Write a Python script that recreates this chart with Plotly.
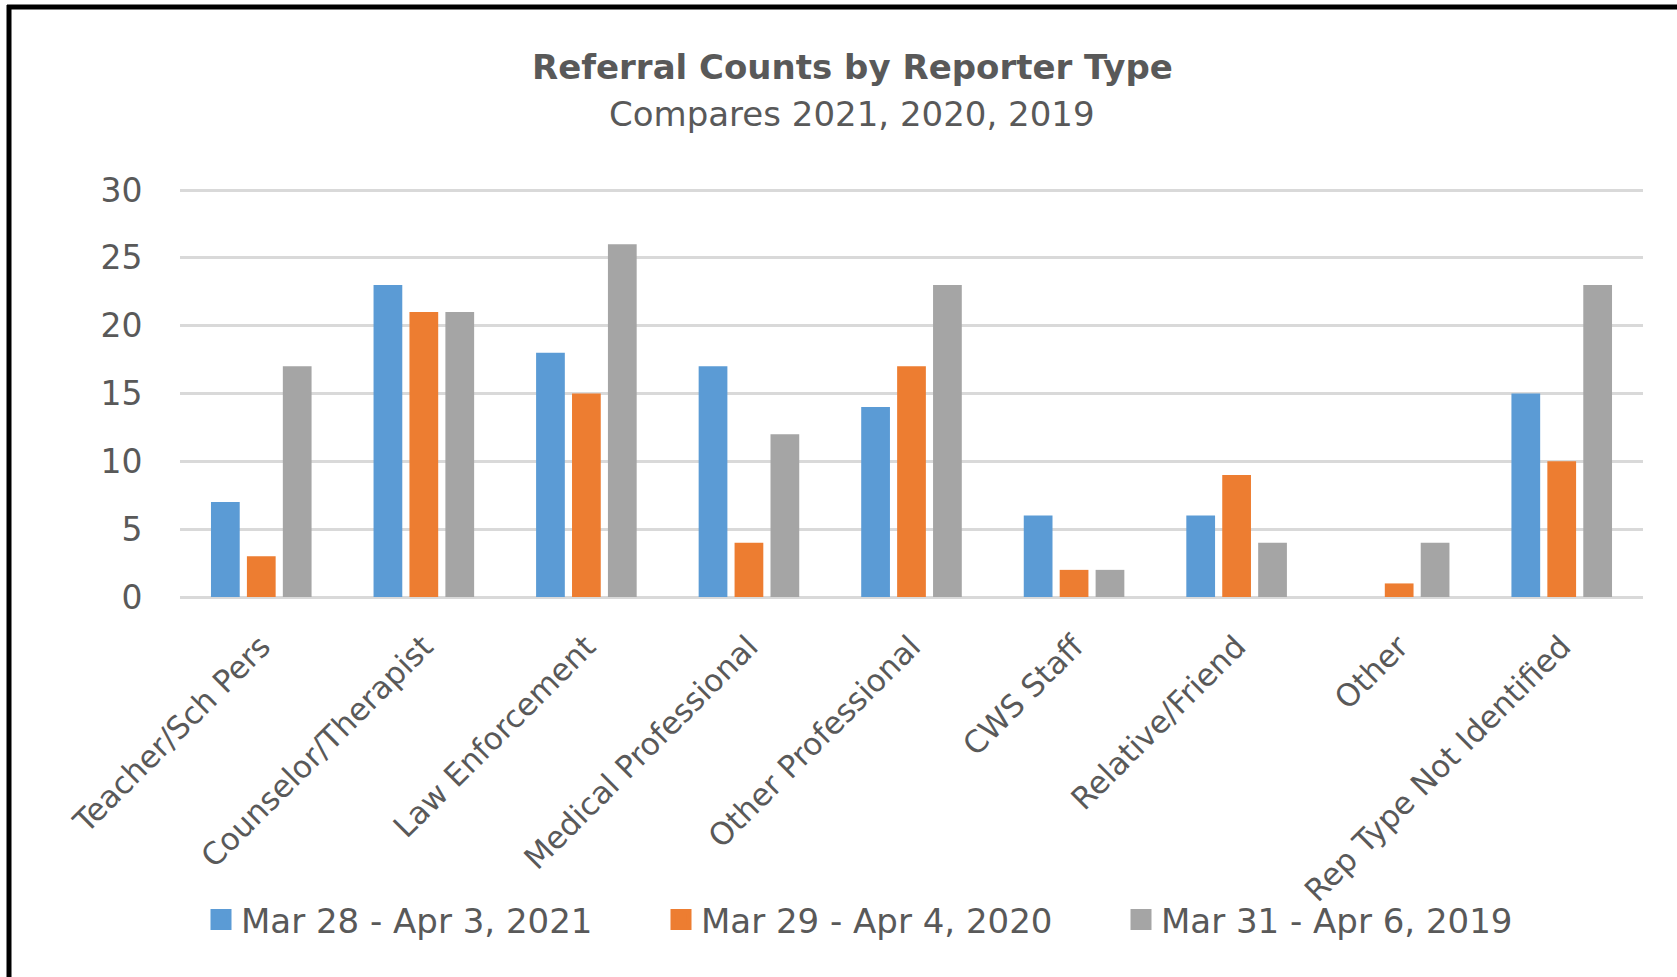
import plotly.graph_objects as go

categories = ["Teacher/Sch Pers", "Counselor/Therapist", "Law Enforcement",
              "Medical Professional", "Other Professional", "CWS Staff",
              "Relative/Friend", "Other", "Rep Type Not Identified"]
series_names = ["Mar 28 - Apr 3, 2021", "Mar 29 - Apr 4, 2020", "Mar 31 - Apr 6, 2019"]
values_2021 = [7, 23, 18, 17, 14, 6, 6, 0, 15]
values_2020 = [3, 21, 15, 4, 17, 2, 9, 1, 10]
values_2019 = [17, 21, 26, 12, 23, 2, 4, 4, 23]
colors = ["#5B9BD5", "#ED7D31", "#A5A5A5"]
y_ticks = [0, 5, 10, 15, 20, 25, 30]

W, H = 1677, 977
Y0_PX, Y30_PX = 597, 190          # pixel rows of the 0 and 30 gridlines
L, R, T = 180, 34, 185
B = H - Y0_PX
pw, ph = W - L - R, H - T - B
y_top = 30 * (Y0_PX - T) / (Y0_PX - Y30_PX)   # small headroom so the 30 gridline is drawn

TEXT = "#595959"
FONT = "DejaVu Sans"

fig = go.Figure()
for name, vals, col in zip(series_names, [values_2021, values_2020, values_2019], colors):
    fig.add_trace(go.Bar(x=categories, y=vals, name=name, showlegend=False,
                         marker=dict(color=col, line=dict(width=0))))
# legend entries with larger square swatches
for name, col in zip(series_names, colors):
    fig.add_trace(go.Scatter(x=[None], y=[None], mode="markers", name=name,
                             marker=dict(symbol="square", size=16, color=col,
                                         line=dict(color=col, width=5))))


def px_x(x):
    return (x - L) / pw


def px_y(y):
    return (H - B - y) / ph


fig.update_layout(
    width=W, height=H,
    margin=dict(l=L, r=R, t=T, b=B, autoexpand=False),
    paper_bgcolor="white", plot_bgcolor="white",
    barmode="group", bargap=0.337, bargroupgap=0.2,
    font=dict(family=FONT, color=TEXT),
    showlegend=True,
    legend=dict(orientation="h", x=px_x(201), y=px_y(920), xanchor="left", yanchor="middle",
                font=dict(size=34, color=TEXT, family=FONT),
                entrywidth=415, entrywidthmode="pixels",
                itemsizing="trace", bgcolor="rgba(0,0,0,0)"),
    xaxis=dict(tickangle=-45, tickfont=dict(size=31, color=TEXT, family=FONT),
               showgrid=False, showline=False, zeroline=False,
               ticks="outside", ticklen=18, tickcolor="rgba(0,0,0,0)"),
    yaxis=dict(range=[0, y_top], tickvals=y_ticks, tickfont=dict(size=33, color=TEXT, family=FONT),
               showgrid=True, gridcolor="#D9D9D9", gridwidth=3,
               zeroline=True, zerolinecolor="#D9D9D9", zerolinewidth=3,
               showline=False, ticks="outside", ticklen=30, tickcolor="rgba(0,0,0,0)"),
    annotations=[
        dict(text="<b>Referral Counts by Reporter Type</b>", x=px_x(852), y=px_y(67),
             xref="paper", yref="paper", showarrow=False, xanchor="center", yanchor="middle",
             font=dict(size=34, color=TEXT, family=FONT)),
        dict(text="Compares 2021, 2020, 2019", x=px_x(852), y=px_y(114),
             xref="paper", yref="paper", showarrow=False, xanchor="center", yanchor="middle",
             font=dict(size=34, color=TEXT, family=FONT)),
    ],
    shapes=[
        dict(type="line", xref="paper", yref="paper", x0=px_x(7), x1=px_x(W), y0=px_y(7), y1=px_y(7),
             line=dict(color="black", width=5)),
        dict(type="line", xref="paper", yref="paper", x0=px_x(9), x1=px_x(9), y0=px_y(5), y1=px_y(H),
             line=dict(color="black", width=5)),
    ],
)

fig.write_html("out.html", config={"displayModeBar": False},
               post_script="document.body.style.margin='0px';document.body.style.overflow='hidden';")
